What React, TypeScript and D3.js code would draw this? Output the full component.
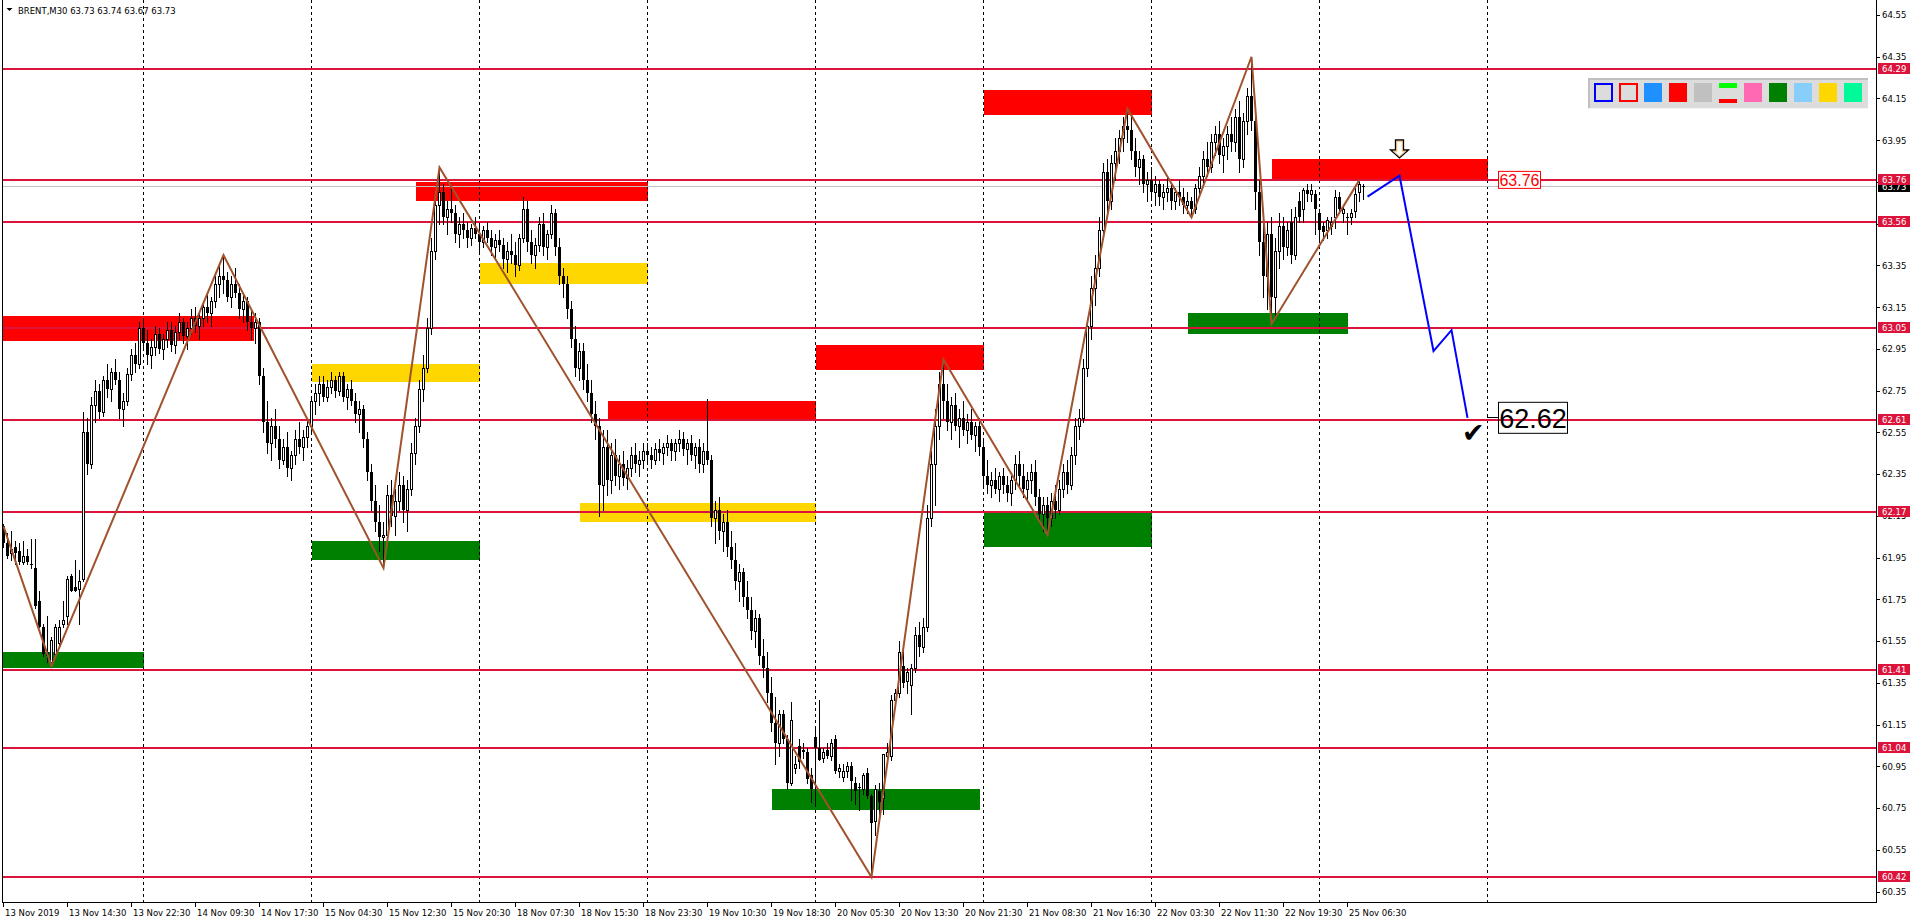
import React from 'react';
import * as d3 from 'd3';

// ---------- DATA ----------
// BRENT M30 candles: [open, high, low, close]
const candles: [number, number, number, number][] = [
  [62.10,62.11,62.00,62.02],[62.02,62.07,61.95,61.96],[61.97,62.08,61.94,61.99],[62.00,62.03,61.92,61.97],
  [61.98,62.02,61.92,61.93],[61.93,62.03,61.92,61.96],[61.96,61.99,61.92,61.93],[61.92,62.04,61.90,61.92],
  [61.90,62.04,61.71,61.72],[61.74,61.79,61.62,61.62],[61.62,61.63,61.48,61.49],[61.50,61.67,61.45,61.48],
  [61.45,61.57,61.43,61.555],[61.49,61.63,61.48,61.62],[61.54,61.65,61.53,61.62],[61.63,61.74,61.62,61.65],
  [61.67,61.86,61.63,61.85],[61.86,61.87,61.79,61.79],[61.81,61.94,61.79,61.79],[61.80,61.89,61.63,61.84],
  [61.85,62.65,61.84,62.55],[62.55,62.62,62.35,62.40],[62.40,62.72,62.38,62.68],[62.68,62.80,62.60,62.75],
  [62.75,62.78,62.62,62.65],[62.65,62.82,62.63,62.80],[62.80,62.88,62.72,62.76],[62.76,62.86,62.70,62.84],
  [62.84,62.90,62.78,62.80],[62.80,62.84,62.62,62.66],[62.66,62.74,62.58,62.70],[62.70,62.86,62.68,62.83],
  [62.83,62.95,62.80,62.92],[62.92,62.98,62.84,62.88],[62.88,63.08,62.86,63.05],[63.05,63.10,62.95,62.98],
  [62.98,63.04,62.88,62.92],[62.92,63.00,62.86,62.96],[62.96,63.06,62.92,63.02],[63.02,63.05,62.93,62.95],
  [62.95,63.02,62.90,63.00],[63.00,63.08,62.96,63.04],[63.04,63.08,62.94,62.97],[62.97,63.06,62.93,63.03],
  [63.03,63.12,63.00,63.08],[63.08,63.10,62.98,63.01],[63.01,63.08,62.95,63.05],[63.05,63.14,63.02,63.10],
  [63.10,63.15,63.03,63.06],[63.06,63.12,63.00,63.10],[63.10,63.18,63.06,63.15],[63.15,63.22,63.08,63.12],
  [63.12,63.20,63.06,63.18],[63.18,63.30,63.15,63.26],[63.26,63.36,63.20,63.30],[63.30,63.40,63.22,63.28],
  [63.28,63.32,63.18,63.20],[63.20,63.30,63.15,63.26],[63.26,63.34,63.20,63.22],[63.22,63.26,63.10,63.14],
  [63.14,63.22,63.08,63.18],[63.18,63.20,63.04,63.08],[63.08,63.14,63.00,63.05],[63.05,63.12,62.98,63.08],
  [63.08,63.10,62.78,62.82],[62.82,62.86,62.55,62.60],[62.60,62.70,62.45,62.50],[62.50,62.62,62.42,62.58],
  [62.58,62.66,62.48,62.52],[62.52,62.58,62.38,62.42],[62.42,62.52,62.40,62.48],[62.48,62.55,62.34,62.38],
  [62.38,62.46,62.32,62.44],[62.44,62.56,62.40,62.52],[62.52,62.60,62.45,62.48],[62.48,62.56,62.42,62.53],
  [62.53,62.62,62.48,62.58],[62.58,62.72,62.55,62.70],[62.70,62.78,62.64,62.74],[62.74,62.82,62.68,62.78],
  [62.78,62.82,62.70,62.72],[62.72,62.80,62.70,62.77],[62.77,62.84,62.74,62.80],[62.80,62.82,62.72,62.75],
  [62.75,62.84,62.73,62.82],[62.82,62.84,62.70,62.72],[62.72,62.78,62.66,62.76],[62.76,62.80,62.68,62.70],
  [62.70,62.74,62.60,62.64],[62.64,62.70,62.55,62.66],[62.66,62.68,62.48,62.52],[62.52,62.55,62.32,62.36],
  [62.36,62.40,62.18,62.22],[62.22,62.30,62.08,62.12],[62.12,62.20,61.98,62.05],[62.05,62.12,61.90,62.06],
  [62.06,62.30,62.02,62.25],[62.25,62.32,62.10,62.15],[62.15,62.28,62.06,62.22],[62.22,62.36,62.18,62.30],
  [62.30,62.34,62.12,62.18],[62.18,62.32,62.08,62.28],[62.28,62.50,62.25,62.45],[62.45,62.62,62.40,62.58],
  [62.58,62.80,62.55,62.76],[62.76,62.92,62.70,62.86],[62.86,63.10,62.84,63.05],[63.05,63.48,63.02,63.42],
  [63.42,63.70,63.38,63.64],[63.64,63.82,63.55,63.70],[63.70,63.74,63.55,63.58],[63.58,63.66,63.50,63.62],
  [63.62,63.72,63.56,63.60],[63.60,63.64,63.46,63.50],[63.50,63.58,63.44,63.55],[63.55,63.60,63.48,63.52],
  [63.52,63.56,63.44,63.48],[63.48,63.55,63.45,63.53],[63.53,63.58,63.48,63.50],[63.50,63.55,63.42,63.46],
  [63.46,63.54,63.44,63.52],[63.52,63.56,63.46,63.48],[63.48,63.52,63.40,63.44],[63.44,63.50,63.38,63.47],
  [63.47,63.52,63.42,63.45],[63.45,63.48,63.34,63.38],[63.38,63.46,63.32,63.42],[63.42,63.50,63.36,63.40],
  [63.40,63.46,63.30,63.35],[63.35,63.50,63.33,63.48],[63.48,63.68,63.46,63.62],[63.62,63.66,63.42,63.46],
  [63.46,63.52,63.36,63.40],[63.40,63.48,63.34,63.45],[63.45,63.58,63.42,63.55],[63.55,63.60,63.40,63.44],
  [63.44,63.52,63.38,63.50],[63.50,63.64,63.48,63.60],[63.60,63.62,63.40,63.44],[63.44,63.48,63.26,63.30],
  [63.30,63.34,63.20,63.26],[63.26,63.30,63.10,63.14],[63.14,63.18,62.96,63.00],[63.00,63.06,62.82,62.86],
  [62.86,62.98,62.80,62.94],[62.94,62.98,62.76,62.80],[62.80,62.88,62.70,62.74],[62.74,62.80,62.60,62.64],
  [62.64,62.70,62.52,62.58],[62.58,62.62,62.15,62.30],[62.30,62.56,62.18,62.48],[62.48,62.56,62.25,62.32],
  [62.32,62.50,62.26,62.44],[62.44,62.52,62.30,62.34],[62.34,62.44,62.28,62.40],[62.40,62.46,62.30,62.33],
  [62.33,62.42,62.28,62.38],[62.38,62.48,62.34,62.44],[62.44,62.50,62.36,62.40],[62.40,62.46,62.34,62.42],
  [62.42,62.50,62.38,62.46],[62.46,62.50,62.40,62.44],[62.44,62.48,62.38,62.42],[62.42,62.50,62.40,62.47],
  [62.47,62.52,62.42,62.45],[62.45,62.50,62.40,62.48],[62.48,62.54,62.44,62.50],[62.50,62.52,62.42,62.46],
  [62.46,62.52,62.42,62.50],[62.50,62.56,62.46,62.52],[62.52,62.55,62.44,62.47],[62.47,62.52,62.40,62.50],
  [62.50,62.54,62.42,62.44],[62.44,62.50,62.38,62.48],[62.48,62.52,62.36,62.40],[62.40,62.50,62.36,62.46],
  [62.46,62.71,62.40,62.42],[62.42,62.44,62.10,62.14],[62.14,62.22,62.02,62.18],[62.18,62.24,62.04,62.08],
  [62.08,62.16,61.98,62.12],[62.12,62.18,61.96,62.00],[62.00,62.08,61.90,61.94],[61.94,62.02,61.80,61.84],
  [61.84,61.92,61.74,61.88],[61.88,61.90,61.72,61.76],[61.76,61.84,61.66,61.70],[61.70,61.76,61.56,61.60],
  [61.60,61.70,61.52,61.66],[61.66,61.68,61.44,61.48],[61.48,61.56,61.38,61.42],[61.42,61.50,61.26,61.30],
  [61.30,61.38,61.12,61.16],[61.16,61.28,60.96,61.06],[61.06,61.22,61.00,61.20],[61.20,61.22,61.06,61.08],
  [61.08,61.10,60.84,60.87],[60.87,61.26,60.86,61.17],[60.94,61.00,60.92,60.96],[61.05,61.08,60.94,60.97],
  [61.03,61.06,60.99,61.02],[61.02,61.04,60.87,60.89],[60.91,60.94,60.78,60.84],[61.09,61.14,60.77,61.04],
  [61.04,61.27,60.98,60.98],[60.99,61.04,60.97,61.02],[61.03,61.06,60.99,61.00],[61.00,61.08,60.98,61.06],
  [61.08,61.10,60.92,60.93],[60.93,60.96,60.90,60.94],[60.90,60.96,60.88,60.93],[60.93,60.97,60.90,60.95],
  [60.95,60.97,60.79,60.88],[60.87,60.90,60.77,60.83],[60.85,60.87,60.74,60.85],[60.84,60.92,60.82,60.91],
  [60.92,60.94,60.80,60.81],[60.81,60.82,60.42,60.68],[60.69,60.86,60.62,60.84],[60.83,60.87,60.72,60.78],
  [60.80,61.01,60.72,61.01],[61.00,61.06,60.96,61.02],[61.00,61.29,60.98,61.27],[61.27,61.32,61.24,61.30],
  [61.30,61.55,61.28,61.50],[61.43,61.52,61.33,61.35],[61.36,61.42,61.30,61.40],[61.34,61.44,61.20,61.42],
  [61.42,61.62,61.40,61.58],[61.58,61.64,61.48,61.52],[61.52,61.66,61.50,61.62],[61.62,62.20,61.60,62.14],
  [62.14,62.46,62.10,62.40],[62.40,62.66,62.20,62.58],[62.58,62.84,62.52,62.78],[62.78,62.90,62.62,62.70],
  [62.70,62.78,62.56,62.60],[62.60,62.72,62.52,62.68],[62.68,62.74,62.56,62.58],[62.58,62.66,62.48,62.62],
  [62.62,62.70,62.54,62.56],[62.56,62.64,62.50,62.60],[62.60,62.66,62.52,62.54],[62.54,62.60,62.46,62.58],
  [62.58,62.62,62.44,62.48],[62.48,62.52,62.30,62.34],[62.34,62.42,62.26,62.30],[62.30,62.36,62.24,62.32],
  [62.32,62.38,62.26,62.28],[62.28,62.36,62.22,62.34],[62.34,62.38,62.26,62.30],[62.30,62.34,62.22,62.26],
  [62.26,62.34,62.20,62.32],[62.32,62.44,62.28,62.40],[62.40,62.46,62.30,62.34],[62.34,62.40,62.24,62.28],
  [62.28,62.36,62.22,62.32],[62.32,62.40,62.26,62.36],[62.36,62.42,62.20,62.24],[62.24,62.28,62.12,62.16],
  [62.16,62.24,62.08,62.20],[62.20,62.24,62.06,62.14],[62.14,62.26,62.10,62.22],[62.22,62.30,62.14,62.18],
  [62.18,62.32,62.16,62.28],[62.28,62.40,62.24,62.36],[62.36,62.42,62.26,62.30],[62.30,62.48,62.28,62.44],
  [62.44,62.62,62.40,62.58],[62.58,62.66,62.52,62.62],[62.62,62.90,62.60,62.86],[62.86,63.10,62.82,63.06],
  [63.06,63.30,63.00,63.24],[63.24,63.40,63.16,63.34],[63.34,63.58,63.30,63.52],[63.52,63.84,63.48,63.80],
  [63.80,63.86,63.60,63.66],[63.66,63.88,63.62,63.84],[63.84,63.96,63.76,63.90],[63.90,64.00,63.84,63.96],
  [63.96,64.06,63.90,64.02],[64.02,64.10,63.94,64.00],[64.00,64.06,63.86,63.90],[63.90,63.96,63.78,63.82],
  [63.82,63.90,63.74,63.86],[63.86,63.88,63.70,63.74],[63.74,63.80,63.66,63.76],[63.76,63.82,63.68,63.70],
  [63.70,63.78,63.64,63.74],[63.74,63.76,63.64,63.68],[63.68,63.74,63.62,63.70],[63.70,63.78,63.66,63.72],
  [63.72,63.74,63.62,63.66],[63.66,63.72,63.62,63.70],[63.70,63.76,63.64,63.68],[63.68,63.72,63.60,63.64],
  [63.64,63.70,63.60,63.66],[63.66,63.68,63.58,63.62],[63.62,63.74,63.60,63.72],[63.72,63.82,63.68,63.78],
  [63.78,63.90,63.74,63.86],[63.86,63.94,63.78,63.82],[63.82,63.98,63.80,63.94],[63.94,64.02,63.88,63.98],
  [63.98,64.04,63.84,63.88],[63.88,63.96,63.80,63.92],[63.92,64.02,63.86,63.98],[63.98,64.06,63.90,63.94],
  [63.94,64.10,63.90,64.06],[64.06,64.14,63.80,63.86],[63.86,64.08,63.82,64.04],[64.04,64.20,63.98,64.16],
  [64.16,64.35,64.00,64.04],[64.04,64.10,63.62,63.70],[63.70,63.76,63.40,63.46],[63.46,63.60,63.20,63.30],
  [63.30,63.56,63.14,63.50],[63.50,63.58,63.07,63.20],[63.20,63.48,63.10,63.42],[63.42,63.60,63.34,63.54],
  [63.54,63.58,63.38,63.44],[63.44,63.56,63.40,63.52],[63.56,63.62,63.36,63.40],[63.40,63.63,63.38,63.58],
  [63.66,63.70,63.56,63.58],[63.62,63.72,63.56,63.71],[63.71,63.74,63.66,63.69],[63.69,63.74,63.66,63.71],
  [63.69,63.71,63.50,63.62],[63.60,63.62,63.47,63.52],[63.54,63.56,63.47,63.51],[63.52,63.58,63.48,63.57],
  [63.54,63.58,63.50,63.56],[63.58,63.71,63.53,63.68],[63.68,63.70,63.60,63.62],[63.60,63.63,63.56,63.62],
  [63.58,63.60,63.50,63.58],[63.58,63.62,63.55,63.60],[63.61,63.72,63.58,63.69],[63.70,63.76,63.66,63.74],
  [63.73,63.74,63.67,63.73],
];

// ZigZag pivots: [bar, price]
const zigzag: [number, number][] = [
  [0, 62.10], [12, 61.43], [55, 63.40], [95, 61.90], [109, 63.82], [217, 60.42],
  [235, 62.90], [261, 62.06], [281, 64.10], [297, 63.58], [312, 64.35], [317, 63.07], [339, 63.76],
];

// Blue projection path: [bar, price]
const projection: [number, number][] = [[341, 63.68], [349, 63.78], [357.5, 62.94], [362, 63.04], [366, 62.62]];

// Horizontal levels
const levels = [64.29, 63.76, 63.56, 63.05, 62.61, 62.17, 61.41, 61.04, 60.42];
const currentPrice = 63.73;

// Zones: [startBar, endBar, topPrice, bottomPrice]
const redZones: [number, number, number, number][] = [
  [-0.4, 62.6, 63.11, 62.99], [103, 161, 63.75, 63.66], [151, 203, 62.70, 62.61],
  [203, 245, 62.97, 62.85], [245, 287, 64.19, 64.07], [317, 371, 63.86, 63.76],
];
const yellowZones: [number, number, number, number][] = [
  [77, 119, 62.88, 62.79], [119, 161, 63.36, 63.26], [144, 203, 62.21, 62.12],
];
const greenZones: [number, number, number, number][] = [
  [-0.4, 35, 61.50, 61.42], [77, 119, 62.03, 61.94], [192, 244, 60.84, 60.74],
  [245, 287, 62.17, 62.00], [296, 336, 63.12, 63.02],
];

// Axes
const priceTicks = [60.35, 60.55, 60.75, 60.95, 61.15, 61.35, 61.55, 61.75, 61.95, 62.15, 62.35, 62.55, 62.75, 62.95, 63.15, 63.35, 63.55, 63.75, 63.95, 64.15, 64.35, 64.55];
const timeBars = [0, 16, 32, 48, 64, 80, 96, 112, 128, 144, 160, 176, 192, 208, 224, 240, 256, 272, 288, 304, 320, 336];
const timeLabels = ['13 Nov 2019', '13 Nov 14:30', '13 Nov 22:30', '14 Nov 09:30', '14 Nov 17:30', '15 Nov 04:30', '15 Nov 12:30', '15 Nov 20:30', '18 Nov 07:30', '18 Nov 15:30', '18 Nov 23:30', '19 Nov 10:30', '19 Nov 18:30', '20 Nov 05:30', '20 Nov 13:30', '20 Nov 21:30', '21 Nov 08:30', '21 Nov 16:30', '22 Nov 03:30', '22 Nov 11:30', '22 Nov 19:30', '25 Nov 06:30'];
const gridBars = [35, 77, 119, 161, 203, 245, 287, 329, 371];

const legendColors = ['outline:#0000FF', 'outline:#FF0000', '#1E90FF', '#FF0000', '#C0C0C0', 'split', '#FF69B4', '#008000', '#87CEFA', '#FFD700', '#00FA9A'];

const title = 'BRENT,M30  63.73 63.74 63.67 63.73';
const targetLabel = '62.62';
const targetPrice = 62.62;
const zoneLabel = '63.76';
const zoneLabelPrice = 63.76;
const arrowBar = 349;

// ---------- CHART ----------
const W = 1916;
const H = 923;
const PLOT_RIGHT = 1876;
const PLOT_BOTTOM = 902;
const AX_FONT = "'DejaVu Sans', sans-serif";

const x = d3.scaleLinear().domain([0, 1]).range([3.5, 7.5]);
const y = d3.scaleLinear().domain([60.35, 64.55]).range([891.6, 15]);

export default function App() {
  const lineGen = d3.line<[number, number]>().x(d => x(d[0])).y(d => y(d[1]));
  const fmt = d3.format('.2f');

  const zoneRect = (z: [number, number, number, number], color: string, k: string) => (
    <rect key={k} x={x(z[0])} y={y(z[2])} width={x(z[1]) - x(z[0])} height={y(z[3]) - y(z[2])} fill={color} />
  );

  return (
    <svg width={W} height={H} style={{ position: 'absolute', left: 0, top: 0, display: 'block', background: '#fff' }}>
      <rect x={0} y={0} width={W} height={H} fill="#fff" />
      <defs>
        <clipPath id="plot"><rect x={2} y={0} width={PLOT_RIGHT - 2} height={PLOT_BOTTOM} /></clipPath>
      </defs>
      <g clipPath="url(#plot)">
        {/* zones */}
        <g shapeRendering="crispEdges">
          {redZones.map((z, i) => zoneRect(z, '#FF0000', 'r' + i))}
          {yellowZones.map((z, i) => zoneRect(z, '#FFD700', 'y' + i))}
          {greenZones.map((z, i) => zoneRect(z, '#008000', 'g' + i))}
        </g>
        {/* grid */}
        <g shapeRendering="crispEdges">
          {gridBars.map(b => (
            <line key={b} x1={Math.floor(x(b)) + 0.5} x2={Math.floor(x(b)) + 0.5} y1={0} y2={PLOT_BOTTOM} stroke="#000" strokeDasharray="3,3" />
          ))}
        </g>
        {/* current price line */}
        <line x1={2} x2={PLOT_RIGHT} y1={Math.round(y(currentPrice)) + 0.5} y2={Math.round(y(currentPrice)) + 0.5} stroke="#C0C0C0" shapeRendering="crispEdges" />
        {/* horizontal levels */}
        <g shapeRendering="crispEdges">
          {levels.map(l => (
            <line key={l} x1={2} x2={PLOT_RIGHT} y1={Math.round(y(l))} y2={Math.round(y(l))} stroke="#DC143C" strokeWidth={2} />
          ))}
        </g>
        {/* candles */}
        <g shapeRendering="crispEdges">
          {candles.map((c, i) => {
            const [o, h, l, cl] = c;
            const cx = x(i);
            const top = Math.round(y(Math.max(o, cl)));
            const bot = Math.round(y(Math.min(o, cl)));
            const bull = cl > o;
            return (
              <g key={i}>
                <line x1={cx} x2={cx} y1={Math.round(y(h))} y2={Math.round(y(l)) + 1} stroke="#000" />
                {bull ? (
                  <rect x={cx - 1} y={top + 0.5} width={2} height={Math.max(bot - top, 1)} fill="#fff" stroke="#000" />
                ) : (
                  <rect x={cx - 1.5} y={top} width={3} height={Math.max(bot - top, 1)} fill="#000" />
                )}
              </g>
            );
          })}
        </g>
        {/* zigzag */}
        <path d={lineGen(zigzag) || ''} fill="none" stroke="#A0522D" strokeWidth={2} />
        {/* projection */}
        <path d={lineGen(projection) || ''} fill="none" stroke="#0000FF" strokeWidth={2} />
      </g>

      {/* down arrow above projection peak */}
      <g transform={`translate(${x(arrowBar)},158)`}>
        <path d="M -4 -18 L 4 -18 L 4 -8 L 9 -8 L 0 0 L -9 -8 L -4 -8 Z" fill="#fff" stroke="#000" strokeWidth={1.3} strokeLinejoin="miter" />
        <path d="M -2.8 -16.8 L 2.8 -16.8 L 2.8 -6.8 L 6 -6.8 L 0 -1.6 L -6 -6.8 L -2.8 -6.8 Z" fill="none" stroke="#E8A33A" strokeWidth={0.8} />
      </g>

      {/* zone price label */}
      <g>
        <rect x={1498.5} y={y(zoneLabelPrice) - 8.5} width={42} height={17} fill="#fff" stroke="#FF0000" strokeWidth={1} />
        <text x={1519.5} y={y(zoneLabelPrice) + 6} textAnchor="middle" fontFamily="'Liberation Sans', Arial, sans-serif" fontSize={16} fill="#FF0000">{zoneLabel}</text>
      </g>

      {/* target marker */}
      <g>
        <text x={1462} y={y(targetPrice) + 24} fontFamily="'DejaVu Sans', sans-serif" fontSize={27} fill="#000">✔</text>
        <line x1={1487} x2={1498} y1={Math.round(y(targetPrice)) - 0.5} y2={Math.round(y(targetPrice)) - 0.5} stroke="#000" />
        <rect x={1498.5} y={y(targetPrice) - 15.5} width={69} height={31} fill="none" stroke="#000" strokeWidth={1} />
        <text x={1533} y={y(targetPrice) + 10} textAnchor="middle" fontFamily="'Liberation Sans', Arial, sans-serif" fontSize={27} fill="#000">{targetLabel}</text>
      </g>

      {/* legend panel */}
      <g shapeRendering="crispEdges">
        <rect x={1588} y={78} width={280} height={30} fill="#DCDCDC" />
        <line x1={1588} x2={1868} y1={79} y2={79} stroke="#C0C0C0" strokeWidth={2} />
        <line x1={1589} x2={1589} y1={78} y2={108} stroke="#C0C0C0" strokeWidth={2} />
        <line x1={1588} x2={1868} y1={108.5} y2={108.5} stroke="#F4F4F4" />
        {legendColors.map((c, i) => {
          const lx = 1593.5 + i * 25;
          if (c.startsWith('outline:')) {
            return <rect key={i} x={lx + 1} y={84.3} width={17} height={17} fill="#DCDCDC" stroke={c.slice(8)} strokeWidth={2} />;
          }
          if (c === 'split') {
            return (
              <g key={i}>
                <rect x={lx} y={83.3} width={18} height={4.5} fill="#00FF00" />
                <rect x={lx} y={99} width={18} height={4.3} fill="#FF0000" />
              </g>
            );
          }
          return <rect key={i} x={lx} y={83.3} width={18} height={18.5} fill={c} />;
        })}
      </g>

      {/* frame */}
      <g shapeRendering="crispEdges">
        <line x1={2.5} x2={2.5} y1={0} y2={PLOT_BOTTOM} stroke="#000" />
        <line x1={2} x2={PLOT_RIGHT + 1} y1={PLOT_BOTTOM + 0.5} y2={PLOT_BOTTOM + 0.5} stroke="#000" />
        <line x1={PLOT_RIGHT + 0.5} x2={PLOT_RIGHT + 0.5} y1={0} y2={PLOT_BOTTOM + 1} stroke="#000" />
      </g>

      {/* right price axis */}
      <g fontFamily={AX_FONT} fontSize={8.5} fill="#000">
        {priceTicks.map(t => (
          <g key={t}>
            <line x1={PLOT_RIGHT} x2={PLOT_RIGHT + 4} y1={Math.round(y(t)) + 0.5} y2={Math.round(y(t)) + 0.5} stroke="#000" shapeRendering="crispEdges" />
            <text x={1882} y={y(t) + 3.3}>{fmt(t)}</text>
          </g>
        ))}
        <rect x={1877.5} y={Math.round(y(currentPrice)) - 5} width={32} height={11} fill="#000" shapeRendering="crispEdges" />
        <text x={1882} y={y(currentPrice) + 3.8} fill="#fff">{fmt(currentPrice)}</text>
        {levels.map(l => (
          <g key={l}>
            <rect x={1877.5} y={Math.round(y(l)) - 6} width={32} height={11} fill="#DC143C" shapeRendering="crispEdges" />
            <text x={1882} y={y(l) + 3} fill="#fff">{fmt(l)}</text>
          </g>
        ))}
      </g>

      {/* time axis */}
      <g fontFamily={AX_FONT} fontSize={8.5} fill="#000">
        {timeBars.map((b, i) => (
          <g key={b}>
            <line x1={Math.floor(x(b)) + 0.5} x2={Math.floor(x(b)) + 0.5} y1={PLOT_BOTTOM} y2={PLOT_BOTTOM + 5} stroke="#000" shapeRendering="crispEdges" />
            <text x={Math.floor(x(b)) + 2} y={PLOT_BOTTOM + 14}>{timeLabels[i]}</text>
          </g>
        ))}
      </g>

      {/* title */}
      <g>
        <path d="M 6.5 8 L 12.5 8 L 9.5 11 Z" fill="#000" />
        <text x={18} y={14} fontFamily={AX_FONT} fontSize={8.5} fill="#000">{title}</text>
      </g>
    </svg>
  );
}
